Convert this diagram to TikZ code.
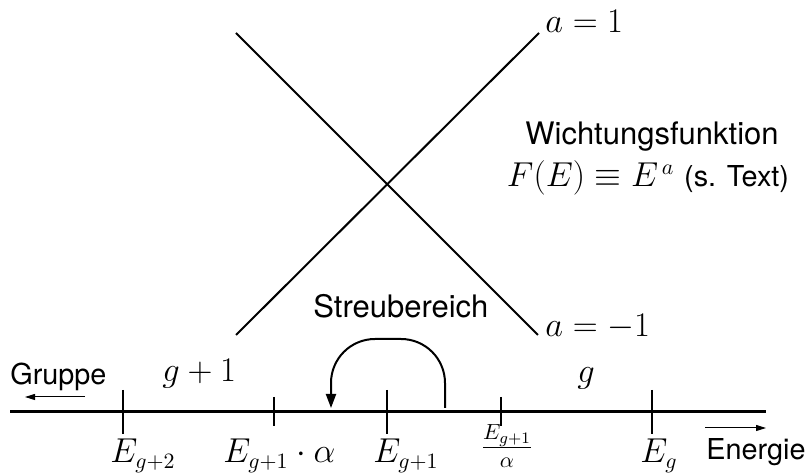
\documentclass[tikz,border=0pt]{standalone}
\usepackage{fontspec}
\setsansfont{TeX Gyre Heros}
\usetikzlibrary{arrows.meta,positioning}

\begin{document}
\begin{tikzpicture}[x=0.5pt, y=-0.5pt, every node/.style={inner sep=0pt}]
  \tikzset{
    txt/.style={font=\fontsize{14.4}{17}\sffamily},
    bigtxt/.style={font=\fontsize{15.5}{18}\sffamily},
    mth/.style={font=\fontsize{16}{19}\selectfont},
    bigtick/.style={line width=1pt},
    smalltick/.style={line width=0.6pt},
    curve/.style={line width=1pt},
    dirarrow/.style={line width=0.5pt, -{Triangle[length=5pt,width=3pt]}}
  }
  \useasboundingbox (0,0) rectangle (810,475);

  % Wichtungsfunktion (two lines)
  \coordinate (Ulo) at (236,335); \coordinate (Uhi) at (539,33);
  \coordinate (Dhi) at (236,33);  \coordinate (Dlo) at (538,335);
  \draw[curve] (Ulo) -- (Uhi);
  \draw[curve] (Dhi) -- (Dlo);
  \node[mth, anchor=base west] (aplus) at (545,33) {$a=1$};
  \node[mth, anchor=base west] (aminus) at (545,337) {$a=-1$};
  \node[bigtxt, anchor=base] (wf) at (652,145) {Wichtungsfunktion};
  \node[mth, anchor=base] (fe) at (648,187) {$F(E)\equiv E^{\,a}$ {\fontsize{14.4}{17}\sffamily(s. Text)}};

  % Energieachse
  \coordinate (ax0) at (10,412); \coordinate (ax1) at (766,412);
  \draw[line width=1.5pt] (ax0) -- (ax1);
  \foreach \x in {123,387,652}
    \draw[bigtick] (\x,390) -- (\x,434);
  \foreach \x in {274,501}
    \draw[smalltick] (\x,397) -- (\x,426);

  \node[mth, anchor=base west] (Eg2) at (110,463) {$E_{g+2}$};
  \node[mth, anchor=base west] (Eg1a) at (223,463) {$E_{g+1}\cdot\alpha$};
  \node[mth, anchor=base west] (Eg1) at (373,463) {$E_{g+1}$};
  \node[mth, anchor=base] (Eg1d) at (507,456) {$\frac{E_{g+1}}{\alpha}$};
  \node[mth, anchor=base west] (Eg) at (640,463) {$E_g$};

  % Gruppen
  \node[txt, anchor=base west] (grp) at (10,385) {Gruppe};
  \coordinate (gr0) at (85,397); \coordinate (gr1) at (25,397);
  \draw[dirarrow] (gr0) -- (gr1);
  \node[mth, anchor=base west] (gp1) at (162,382) {$g+1$};
  \node[mth, anchor=base west] (gp0) at (577,383) {$g$};

  \node[txt, anchor=base west] (en) at (706,460) {Energie};
  \coordinate (en0) at (705,428); \coordinate (en1) at (766,428);
  \draw[dirarrow] (en0) -- (en1);

  % Streubereich
  \node[bigtxt, anchor=base west] (sb) at (313,318) {Streubereich};
  \coordinate (sa) at (445,408); \coordinate (se) at (331,408);
  \draw[curve, rounded corners=22pt, -{Triangle[length=7pt,width=5pt]}]
    (sa) -- ++(0,-69) -| (se);
\end{tikzpicture}
\end{document}
